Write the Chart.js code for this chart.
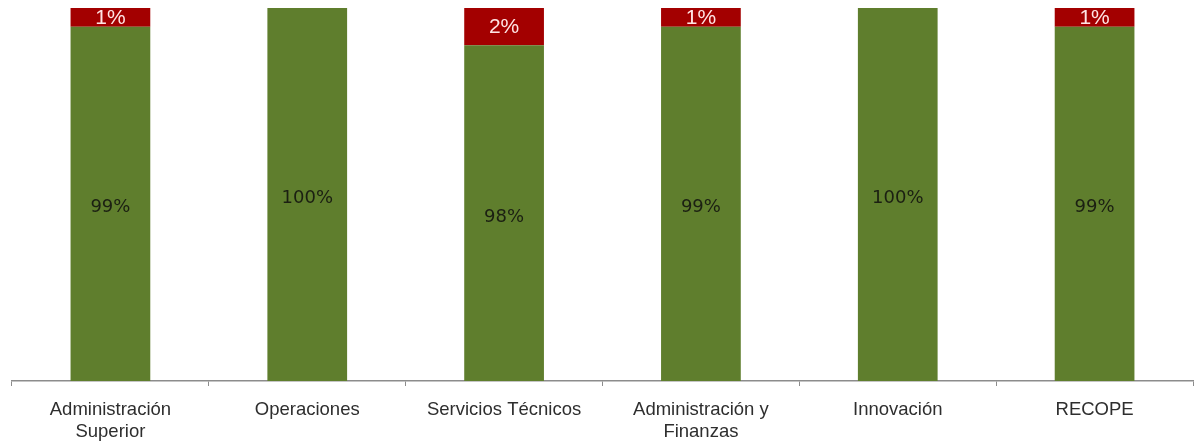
<!DOCTYPE html>
<html>
<head>
<meta charset="utf-8">
<script src="https://cdn.jsdelivr.net/npm/chart.js@4"></script>
<style>
  html, body { margin: 0; padding: 0; background: #fff; }
  #wrap { width: 1196px; height: 441px; }
</style>
</head>
<body>
<div id="wrap"><canvas id="chart"></canvas></div>
<script>
const categories = [
    ['Administración', 'Superior'],
    'Operaciones',
    'Servicios Técnicos',
    ['Administración y', 'Finanzas'],
    'Innovación',
    'RECOPE'
];
const cumple = [99, 100, 98, 99, 100, 99];
const noCumple = [1, 0, 2, 1, 0, 1];

const greenColor = '#5f7e2d';
const redColor = '#a30000';

// draws the percent labels centred in the visible part of each segment
const valueLabels = {
    id: 'valueLabels',
    afterDatasetsDraw(chart) {
        const ctx = chart.ctx, area = chart.chartArea;
        chart.data.datasets.forEach((ds, i) => {
            const meta = chart.getDatasetMeta(i);
            meta.data.forEach((el, j) => {
                const v = ds.data[j];
                if (!v) return;
                const top = Math.max(Math.min(el.y, el.base), area.top);
                const bottom = Math.min(Math.max(el.y, el.base), area.bottom);
                ctx.save();
                ctx.font = ds.labelFont;
                ctx.fillStyle = ds.labelColor;
                ctx.textAlign = 'center';
                ctx.textBaseline = 'middle';
                ctx.fillText(v + '%', el.x, (top + bottom) / 2 + ds.labelShift);
                ctx.restore();
            });
        });
    }
};

new Chart(document.getElementById('chart'), {
    type: 'bar',
    data: {
        labels: categories,
        datasets: [
            {
                label: 'Cumple',
                data: cumple,
                backgroundColor: greenColor,
                labelColor: '#1b1f12',
                labelFont: '18px "DejaVu Sans", Verdana, sans-serif',
                labelShift: 4,
                barPercentage: 0.81,
                categoryPercentage: 0.5
            },
            {
                label: 'No cumple',
                data: noCumple,
                backgroundColor: redColor,
                labelColor: '#ffe4e4',
                labelFont: '21px "Liberation Sans", Arial, sans-serif',
                labelShift: 1,
                barPercentage: 0.81,
                categoryPercentage: 0.5
            }
        ]
    },
    options: {
        responsive: true,
        maintainAspectRatio: false,
        animation: false,
        layout: {
            padding: { left: 12, right: 3, top: 8, bottom: 0 }
        },
        plugins: {
            legend: { display: false },
            title: { display: false },
            tooltip: { enabled: false }
        },
        scales: {
            x: {
                stacked: true,
                afterFit: (scale) => { scale.height = 60; },
                border: { display: true, color: '#8c8c8c', width: 1.5 },
                grid: {
                    offset: true,
                    drawOnChartArea: false,
                    drawTicks: true,
                    tickLength: 5,
                    color: '#8c8c8c'
                },
                ticks: {
                    color: '#2e2e2e',
                    padding: 13,
                    maxRotation: 0,
                    autoSkip: false,
                    font: { family: '"Liberation Sans", Arial, sans-serif', size: 18.5, lineHeight: 1.2 }
                }
            },
            y: {
                stacked: true,
                display: false,
                min: 80,
                max: 100
            }
        }
    },
    plugins: [valueLabels]
});
</script>
</body>
</html>
